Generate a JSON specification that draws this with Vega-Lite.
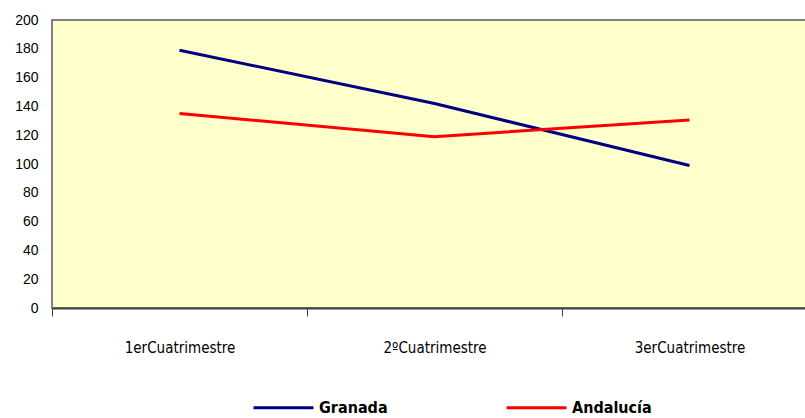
{
  "$schema": "https://vega.github.io/schema/vega-lite/v6.json",
  "autosize": "none",
  "width": 765,
  "height": 288,
  "padding": {"left": 52, "top": 20, "right": 0, "bottom": 110},
  "background": "white",
  "view": {"fill": "#FFFFCC", "stroke": "#808080", "strokeWidth": 2},
  "data": {
    "values": [
      {"periodo": "1erCuatrimestre", "serie": "Granada", "valor": 179},
      {"periodo": "2ºCuatrimestre", "serie": "Granada", "valor": 142},
      {"periodo": "3erCuatrimestre", "serie": "Granada", "valor": 99},
      {"periodo": "1erCuatrimestre", "serie": "Andalucía", "valor": 135},
      {"periodo": "2ºCuatrimestre", "serie": "Andalucía", "valor": 119},
      {"periodo": "3erCuatrimestre", "serie": "Andalucía", "valor": 130.5}
    ]
  },
  "mark": {"type": "line", "strokeWidth": 3},
  "encoding": {
    "x": {
      "field": "periodo",
      "type": "nominal",
      "sort": ["1erCuatrimestre", "2ºCuatrimestre", "3erCuatrimestre"],
      "scale": {"paddingInner": 0, "paddingOuter": 0},
      "axis": {
        "title": null,
        "labelAngle": 0,
        "tickBand": "extent",
        "labelFont": "DejaVu Sans Condensed",
        "labelFontSize": 15,
        "labelColor": "#000000",
        "labelPadding": 24,
        "tickSize": 8,
        "tickColor": "#404040",
        "domainColor": "#404040",
        "domainWidth": 2,
        "grid": false
      }
    },
    "y": {
      "field": "valor",
      "type": "quantitative",
      "scale": {"domain": [0, 200]},
      "axis": {
        "title": null,
        "values": [0, 20, 40, 60, 80, 100, 120, 140, 160, 180, 200],
        "grid": false,
        "ticks": false,
        "domain": false,
        "labelFont": "Liberation Sans",
        "labelFontSize": 14,
        "labelColor": "#000000",
        "labelPadding": 14
      }
    },
    "color": {
      "field": "serie",
      "type": "nominal",
      "sort": ["Granada", "Andalucía"],
      "scale": {"domain": ["Granada", "Andalucía"], "range": ["#000080", "#FF0000"]},
      "legend": {
        "title": null,
        "orient": "none",
        "legendX": 200,
        "legendY": 356,
        "direction": "horizontal",
        "columns": 2,
        "symbolType": "stroke",
        "symbolSize": 3600,
        "symbolStrokeWidth": 3,
        "labelFont": "DejaVu Sans Condensed",
        "labelFontWeight": "bold",
        "labelFontSize": 16,
        "labelColor": "#000000",
        "labelOffset": 4,
        "columnPadding": 112
      }
    }
  }
}
